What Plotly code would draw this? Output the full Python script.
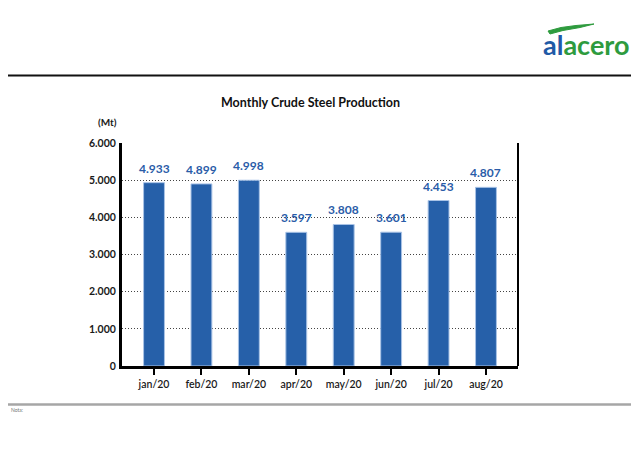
import plotly.graph_objects as go

months = ["jan/20", "feb/20", "mar/20", "apr/20", "may/20", "jun/20", "jul/20", "aug/20"]
production = [4.933, 4.899, 4.998, 3.597, 3.808, 3.601, 4.453, 4.807]
labels = ["4.933", "4.899", "4.998", "3.597", "3.808", "3.601", "4.453", "4.807"]
y_ticks = [0, 1, 2, 3, 4, 5, 6]
y_tick_text = ["0", "1.000", "2.000", "3.000", "4.000", "5.000", "6.000"]

BAR = "#2660a9"
FONT = "Lato"

# page body has an 8px margin; figure occupies window pixels 8..639 x 8..450
OFF = 8
W, H = 639 - OFF, 450 - OFF
# plot-area geometry in window pixels
X0, X1, Y0, Y1 = 122, 518, 143, 366
def px(x):
    return (x - X0) / (X1 - X0)
def py(y):
    return (Y1 - y) / (Y1 - Y0)

xs = list(range(len(months)))
fig = go.Figure()
fig.add_trace(go.Bar(
    x=xs, y=production, width=0.44,
    marker=dict(color=BAR, line=dict(color="#a9c3e6", width=1)),
    hoverinfo="skip",
))
for xi, yi, lab in zip(xs, production, labels):
    fig.add_annotation(x=xi, y=yi, text=f"<b>{lab}</b>", showarrow=False,
                       xanchor="center", yanchor="bottom", yshift=5,
                       font=dict(family=FONT, size=12, color="#2a5ca8"))

fig.update_layout(
    width=W, height=H,
    margin=dict(l=X0 - OFF, r=639 - X1, t=Y0 - OFF, b=450 - Y1, pad=0),
    paper_bgcolor="white", plot_bgcolor="white",
    showlegend=False,
    font=dict(family=FONT, color="#1a1a1a"),
)

fig.update_xaxes(
    tickmode="array", tickvals=xs, ticktext=months,
    range=[-0.675, 7.675],
    showline=True, linecolor="black", linewidth=3,
    ticks="outside", ticklen=6, tickwidth=2, tickcolor="black",
    tickfont=dict(family=FONT, size=10.5, color="#1a1a1a", weight=600),
    showgrid=False, zeroline=False, fixedrange=True,
)
fig.update_yaxes(
    tickmode="array", tickvals=y_ticks, ticktext=y_tick_text,
    range=[0, 6],
    showline=True, linecolor="black", linewidth=3,
    ticks="", ticklabelstandoff=1,
    tickfont=dict(family=FONT, size=10.5, color="#1a1a1a", weight="bold"),
    showgrid=True, gridcolor="#444444", gridwidth=1, griddash="1px,2px",
    zeroline=False, fixedrange=True,
)

shapes = [
    # right frame line
    dict(type="line", xref="paper", yref="paper", x0=1, x1=1, y0=0, y1=1,
         line=dict(color="black", width=2)),
    # top black rule
    dict(type="line", xref="paper", yref="paper", x0=px(0), x1=px(637), y0=py(75.5), y1=py(75.5),
         line=dict(color="#111", width=2)),
    # bottom grey rule
    dict(type="line", xref="paper", yref="paper", x0=px(0), x1=px(637), y0=py(404.5), y1=py(404.5),
         line=dict(color="#a6a6a6", width=2.5)),
]
# logo swoosh
sw = [(548, 31), (561, 27.5), (576, 25.5), (594, 24), (580, 27.5), (563, 30.5), (550, 34)]
path = "M " + " L ".join(f"{px(a):.4f},{py(b):.4f}" for a, b in sw) + " Z"
shapes.append(dict(type="path", xref="paper", yref="paper", path=path,
                   fillcolor="#2e9b3e", line=dict(color="#2e9b3e", width=1)))
fig.update_layout(shapes=shapes)

fig.add_annotation(xref="paper", yref="paper", x=px(310), y=py(103), xanchor="center", yanchor="middle",
                   text="<b>Monthly Crude Steel Production</b>", showarrow=False,
                   font=dict(family=FONT, size=12.5, color="#111"))
fig.add_annotation(xref="paper", yref="paper", x=px(119), y=py(122), xanchor="right", yanchor="middle",
                   text="<b>(Mt)</b>", showarrow=False, font=dict(family=FONT, size=10, color="#1a1a1a"))
fig.add_annotation(xref="paper", yref="paper", x=px(586), y=py(44), xanchor="center", yanchor="middle",
                   text="<span style='color:#1f5aa6'>al</span><span style='color:#2e9b3e'>acero</span>",
                   showarrow=False, font=dict(family=FONT, size=27, weight="bold"))
fig.add_annotation(xref="paper", yref="paper", x=px(9), y=py(410), xanchor="left", yanchor="middle",
                   text="Nota:", showarrow=False, font=dict(family=FONT, size=5, color="#777"))

fig.write_html("out.html")
